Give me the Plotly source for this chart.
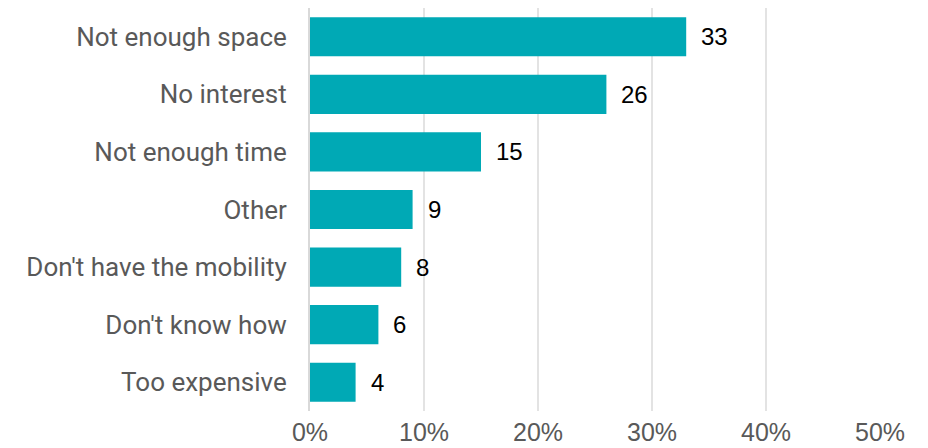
import plotly.graph_objects as go

# Reasons given, top to bottom, with share of respondents (%)
reasons = [
    "Not enough space",
    "No interest",
    "Not enough time",
    "Other",
    "Don't have the mobility",
    "Don't know how",
    "Too expensive",
]
shares = [33, 26, 15, 9, 8, 6, 4]
x_ticks = [0, 10, 20, 30, 40, 50]
x_tick_labels = ["0%", "10%", "20%", "30%", "40%", "50%"]

BAR_COLOR = "#00A9B5"
LABEL_GRAY = "#595959"

fig = go.Figure(
    go.Bar(
        x=shares,
        y=reasons,
        orientation="h",
        marker=dict(color=BAR_COLOR, line=dict(width=0)),
        hoverinfo="skip",
    )
)

# Value labels to the right of each bar
for reason, share in zip(reasons, shares):
    fig.add_annotation(
        x=share,
        y=reason,
        text=str(share),
        showarrow=False,
        xanchor="left",
        xshift=13,
        font=dict(family="Liberation Sans, Arial, sans-serif", size=24, color="#000000"),
    )

fig.update_layout(
    width=928,
    height=448,
    margin=dict(l=310, r=48, t=8, b=37),
    paper_bgcolor="white",
    plot_bgcolor="white",
    bargap=0.32,
    showlegend=False,
    font=dict(family="Liberation Sans, Arial, sans-serif", size=24, color=LABEL_GRAY),
    xaxis=dict(
        range=[0, 50],
        tickvals=x_ticks,
        ticktext=x_tick_labels,
        showgrid=True,
        gridcolor="#E3E3E3",
        gridwidth=1.5,
        zeroline=False,
        showline=False,
        ticks="",
        tickfont=dict(size=25, color=LABEL_GRAY),
        ticklabelstandoff=4,
        automargin=False,
    ),
    yaxis=dict(
        categoryorder="array",
        categoryarray=list(reversed(reasons)),
        showline=True,
        linecolor="#D9D9D9",
        linewidth=2,
        showgrid=False,
        ticks="",
        tickfont=dict(family="Roboto, Liberation Sans, sans-serif", size=26, color=LABEL_GRAY),
        ticklabelstandoff=16,
        automargin=False,
    ),
)

fig.write_html("out.html")
